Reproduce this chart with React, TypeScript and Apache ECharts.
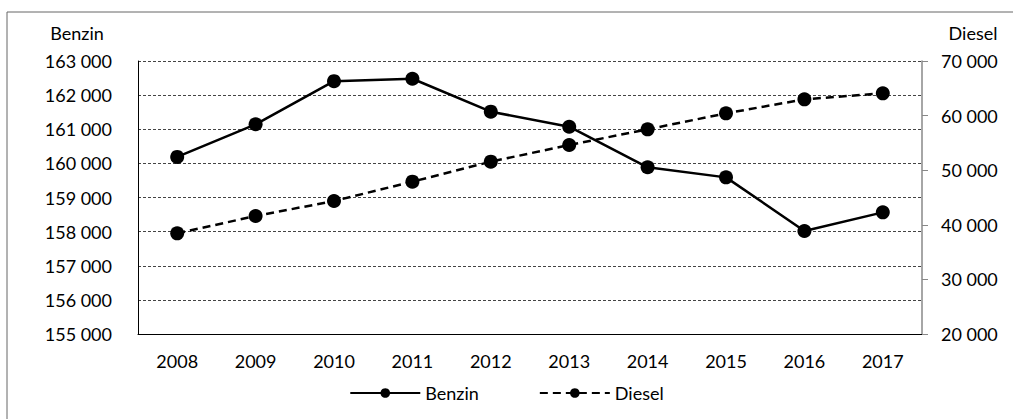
import React, { useEffect, useRef } from "react";
import * as echarts from "echarts";

const years = ["2008", "2009", "2010", "2011", "2012", "2013", "2014", "2015", "2016", "2017"];
const benzin = [160190, 161145, 162410, 162480, 161515, 161075, 159885, 159590, 158020, 158565];
const diesel = [38440, 41610, 44360, 47900, 51560, 54615, 57485, 60415, 62980, 64080];

const FONT = "Lato, 'Open Sans', sans-serif";
const FS = 18;
const fmt = (v: number) => {
  const s = String(Math.round(v));
  return s.replace(/\B(?=(\d{3})+(?!\d))/g, " ");
};

export default function App() {
  const ref = useRef<HTMLDivElement>(null);
  useEffect(() => {
    if (!ref.current) return;
    const chart = echarts.init(ref.current, undefined, { renderer: "svg" });
    chart.setOption({
      animation: false,
      backgroundColor: "#fff",
      textStyle: { fontFamily: FONT },
      graphic: [
        {
          type: "rect",
          shape: { x: 7, y: 12, width: 1030, height: 440 },
          style: { fill: "none", stroke: "#666", lineWidth: 1 },
          silent: true,
        },
      ],
      grid: { left: 138, right: 91, top: 61, bottom: 85, containLabel: false },
      legend: {
        bottom: 12,
        left: "center",
        itemWidth: 70,
        itemHeight: 12,
        itemGap: 60,
        textStyle: { fontFamily: FONT, fontSize: FS, color: "#000" },
        data: ["Benzin", "Diesel"],
      },
      xAxis: {
        type: "category",
        data: years,
        boundaryGap: true,
        axisLine: { lineStyle: { color: "#000", width: 1 } },
        axisTick: { show: false },
        axisLabel: { color: "#000", fontSize: FS, margin: 18, fontFamily: FONT },
      },
      yAxis: [
        {
          type: "value",
          min: 155000,
          max: 163000,
          interval: 1000,
          name: "Benzin",
          nameGap: 19,
          nameTextStyle: { color: "#000", fontSize: FS, fontFamily: FONT, align: "center", padding: [0, 0, 0, -122] },
          axisLine: { show: true, lineStyle: { color: "#000", width: 1 } },
          axisTick: { show: false },
          axisLabel: { color: "#000", fontSize: FS, margin: 26, formatter: fmt, fontFamily: FONT },
          splitLine: { show: true, lineStyle: { color: "#444", type: [3, 2], width: 1 } },
        },
        {
          type: "value",
          min: 20000,
          max: 70000,
          interval: 10000,
          name: "Diesel",
          nameGap: 19,
          nameTextStyle: { color: "#000", fontSize: FS, fontFamily: FONT, align: "center", padding: [0, 0, 0, 102] },
          axisLine: { show: true, lineStyle: { color: "#888", width: 1.5 } },
          axisTick: { show: true, inside: false, length: 6, lineStyle: { color: "#888" } },
          axisLabel: { color: "#000", fontSize: FS, margin: 19, formatter: fmt, fontFamily: FONT },
          splitLine: { show: false },
        },
      ],
      series: [
        {
          name: "Benzin",
          type: "line",
          yAxisIndex: 0,
          data: benzin,
          symbol: "circle",
          symbolSize: 14,
          itemStyle: { color: "#000" },
          lineStyle: { color: "#000", width: 2.5 },
        },
        {
          name: "Diesel",
          type: "line",
          yAxisIndex: 1,
          data: diesel,
          symbol: "circle",
          symbolSize: 14,
          itemStyle: { color: "#000" },
          lineStyle: { color: "#000", width: 2.5, type: [8, 5] },
        },
      ],
    });
    return () => chart.dispose();
  }, []);
  return <div ref={ref} style={{ width: 1013, height: 419, position: "absolute", left: 0, top: 0 }} />;
}
